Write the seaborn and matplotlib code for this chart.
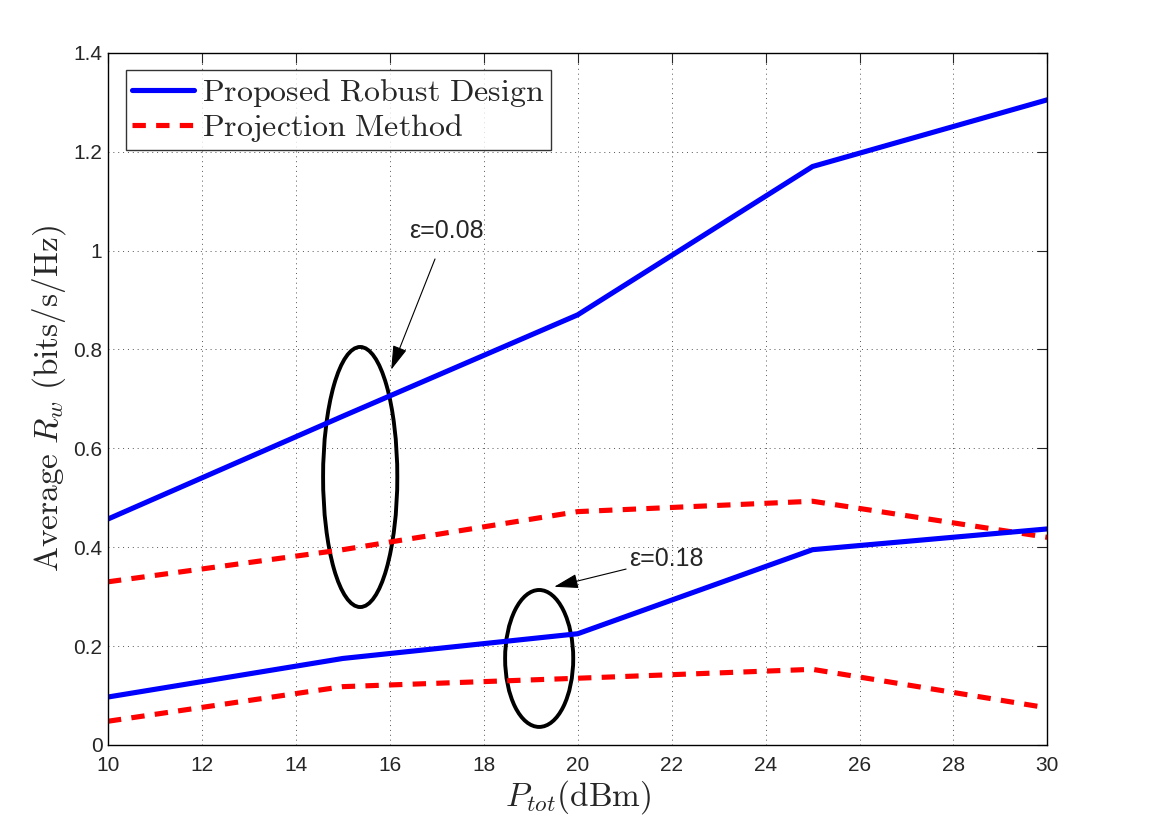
import numpy as np
import pandas as pd
import seaborn as sns
import matplotlib.pyplot as plt
from matplotlib.patches import Ellipse

# Data
p_tot = [10, 15, 20, 25, 30]
robust_008 = [0.457, 0.665, 0.870, 1.170, 1.305]
proj_008 = [0.330, 0.395, 0.472, 0.493, 0.420]
robust_018 = [0.097, 0.175, 0.225, 0.395, 0.437]
proj_018 = [0.048, 0.118, 0.135, 0.153, 0.075]

x_ticks = [10, 12, 14, 16, 18, 20, 22, 24, 26, 28, 30]
y_ticks = [0, 0.2, 0.4, 0.6, 0.8, 1.0, 1.2, 1.4]
y_tick_labels = ['0', '0.2', '0.4', '0.6', '0.8', '1', '1.2', '1.4']

sns.set_style("white")
plt.rcParams['font.family'] = ['Liberation Sans', 'DejaVu Sans']
plt.rcParams['mathtext.fontset'] = 'cm'

fig = plt.figure(figsize=(11.57, 8.38), dpi=100)
ax = fig.add_axes([0.0933, 0.111, 0.812, 0.826])

blue = dict(color='#0000ff', linewidth=3.7, linestyle='-')
red = dict(color='#ff0000', linewidth=3.7, linestyle=(0, (2.6, 2.0)))

sns.lineplot(x=p_tot, y=robust_008, ax=ax, label=r'$\mathrm{Proposed\ Robust\ Design}$', **blue)
sns.lineplot(x=p_tot, y=proj_008, ax=ax, label=r'$\mathrm{Projection\ Method}$', **red)
sns.lineplot(x=p_tot, y=robust_018, ax=ax, **blue)
sns.lineplot(x=p_tot, y=proj_018, ax=ax, **red)

ax.set_xlim(10, 30)
ax.set_ylim(0, 1.4)
ax.set_xticks(x_ticks)
ax.set_yticks(y_ticks)
ax.set_yticklabels(y_tick_labels)
ax.tick_params(direction='in', length=7, top=True, right=True, labelsize=15, width=0.8)
ax.tick_params(axis='x', pad=8)
ax.tick_params(axis='y', pad=4)
ax.grid(True, linestyle=(0, (1, 4)), color='#555555', linewidth=0.7)
for s in ax.spines.values():
    s.set_color('black')
    s.set_linewidth(1.0)

ax.set_xlabel(r'$P_{tot}\mathrm{(dBm)}$', fontsize=24, labelpad=2)
ax.set_ylabel(r'$\mathrm{Average}\ R_w\ \mathrm{(bits/s/Hz)}$', fontsize=24, labelpad=4)

# ellipses and annotations
ax.add_patch(Ellipse((15.37, 0.542), 1.58, 0.526, fill=False, edgecolor='black', linewidth=2.8))
ax.add_patch(Ellipse((19.18, 0.175), 1.45, 0.277, fill=False, edgecolor='black', linewidth=2.8))

arrow = dict(arrowstyle='-|>,head_length=1.0,head_width=0.3', color='black', lw=0.8,
             mutation_scale=15, shrinkA=0, shrinkB=0)
ax.annotate('ε=0.08', xy=(16.03, 0.759), xytext=(17.2, 1.04), ha='center', va='center',
            fontsize=18, arrowprops=dict(arrow, shrinkA=10))
ax.annotate('ε=0.18', xy=(19.50, 0.320), xytext=(21.1, 0.376), ha='left', va='center',
            fontsize=18, arrowprops=arrow)

leg = ax.legend(loc='upper left', fontsize=23, frameon=True, fancybox=False, handlelength=1.95,
                borderaxespad=0.55, borderpad=0.2, labelspacing=0.1, handletextpad=0.25)
leg.get_frame().set_edgecolor('black')
leg.get_frame().set_linewidth(1.0)

fig.savefig('out.png', dpi=100)
